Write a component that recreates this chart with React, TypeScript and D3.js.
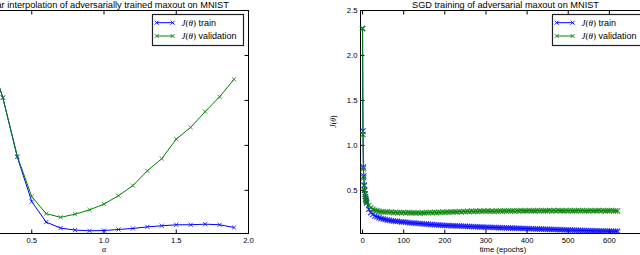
import React from "react";
import * as d3 from "d3";

// ---------- data: left panel (linear interpolation) ----------
const ALPHA = [0, 0.1, 0.2, 0.3, 0.4, 0.5, 0.6, 0.7, 0.8, 0.9, 1.0, 1.1, 1.2, 1.3, 1.4, 1.5, 1.6, 1.7, 1.8, 1.9];
const INTERP_TRAIN = [2.3, 2.22, 2.02, 1.53, 0.87, 0.375, 0.147, 0.08, 0.058, 0.05, 0.053, 0.065, 0.076, 0.094, 0.106, 0.117, 0.117, 0.124, 0.117, 0.087];
const INTERP_VALID = [2.3, 2.22, 2.02, 1.53, 0.88, 0.43, 0.24, 0.2, 0.235, 0.283, 0.347, 0.44, 0.553, 0.717, 0.853, 1.07, 1.2, 1.375, 1.54, 1.735];

// ---------- data: right panel (SGD training) ----------
const EPOCHS = [
  0, 1, 2, 3, 4, 5, 6, 7, 8, 9, 10,
  15, 20, 25, 30, 35, 40, 45, 50, 55, 60, 65, 70, 75, 80, 85, 90, 95, 100,
  105, 110, 115, 120, 125, 130, 135, 140, 145, 150, 155, 160, 165, 170, 175, 180, 185, 190, 195, 200,
  205, 210, 215, 220, 225, 230, 235, 240, 245, 250, 255, 260, 265, 270, 275, 280, 285, 290, 295, 300,
  305, 310, 315, 320, 325, 330, 335, 340, 345, 350, 355, 360, 365, 370, 375, 380, 385, 390, 395, 400,
  405, 410, 415, 420, 425, 430, 435, 440, 445, 450, 455, 460, 465, 470, 475, 480, 485, 490, 495, 500,
  505, 510, 515, 520, 525, 530, 535, 540, 545, 550, 555, 560, 565, 570, 575, 580, 585, 590, 595, 600,
  605, 610, 615, 620,
];
const SGD_TRAIN = [
  2.3, 1.16, 0.76, 0.66, 0.56, 0.5, 0.46, 0.43, 0.4, 0.38, 0.36,
  0.29, 0.252, 0.232, 0.214, 0.205, 0.196, 0.188, 0.181, 0.176, 0.171, 0.167, 0.163, 0.16, 0.157, 0.155, 0.152, 0.149, 0.147,
  0.145, 0.142, 0.14, 0.138, 0.136, 0.134, 0.132, 0.13, 0.128, 0.126, 0.125, 0.123, 0.121, 0.12, 0.118, 0.116, 0.115, 0.113, 0.112, 0.11,
  0.109, 0.108, 0.107, 0.106, 0.105, 0.104, 0.103, 0.102, 0.101, 0.1, 0.099, 0.098, 0.097, 0.096, 0.095, 0.094, 0.093, 0.092, 0.091, 0.09,
  0.089, 0.088, 0.088, 0.087, 0.086, 0.085, 0.085, 0.084, 0.083, 0.082, 0.082, 0.081, 0.08, 0.079, 0.078, 0.078, 0.077, 0.076, 0.075, 0.075,
  0.074, 0.073, 0.072, 0.071, 0.071, 0.07, 0.069, 0.068, 0.068, 0.067, 0.066, 0.065, 0.065, 0.064, 0.063, 0.062, 0.062, 0.061, 0.06, 0.059,
  0.059, 0.058, 0.057, 0.056, 0.056, 0.055, 0.054, 0.054, 0.053, 0.052, 0.052, 0.051, 0.05, 0.05, 0.049, 0.048, 0.048, 0.047, 0.047, 0.046,
  0.046, 0.045, 0.045, 0.044,
];
const SGD_VALID = [
  2.3, 1.12, 0.74, 0.64, 0.55, 0.5, 0.46, 0.43, 0.41, 0.39, 0.37,
  0.33, 0.305, 0.29, 0.28, 0.272, 0.268, 0.263, 0.26, 0.258, 0.262, 0.255, 0.258, 0.252, 0.256, 0.25, 0.254, 0.251, 0.255,
  0.249, 0.253, 0.25, 0.247, 0.252, 0.248, 0.251, 0.246, 0.252, 0.249, 0.253, 0.25, 0.255, 0.251, 0.256, 0.252, 0.257, 0.254, 0.259, 0.255,
  0.26, 0.257, 0.262, 0.258, 0.263, 0.259, 0.264, 0.26, 0.266, 0.262, 0.267, 0.263, 0.269, 0.264, 0.268, 0.265, 0.272, 0.266, 0.27, 0.267,
  0.272, 0.266, 0.27, 0.265, 0.271, 0.267, 0.273, 0.268, 0.272, 0.267, 0.274, 0.269, 0.273, 0.268, 0.272, 0.27, 0.275, 0.269, 0.273, 0.27,
  0.276, 0.271, 0.274, 0.269, 0.275, 0.271, 0.276, 0.27, 0.274, 0.272, 0.277, 0.271, 0.275, 0.27, 0.276, 0.272, 0.274, 0.269, 0.275, 0.271,
  0.276, 0.27, 0.274, 0.272, 0.277, 0.271, 0.275, 0.27, 0.274, 0.271, 0.276, 0.27, 0.274, 0.272, 0.277, 0.271, 0.275, 0.27, 0.274, 0.272,
  0.276, 0.27, 0.273, 0.271,
];

// ---------- ticks & labels ----------
const LEFT_X_TICKS = [0, 0.5, 1.0, 1.5, 2.0];
const RIGHT_X_TICKS = [0, 100, 200, 300, 400, 500, 600, 700];
const Y_TICKS = [0.5, 1.0, 1.5, 2.0, 2.5];
const LEFT_TITLE = "Linear interpolation of adversarially trained maxout on MNIST";
const RIGHT_TITLE = "SGD training of adversarial maxout on MNIST";
const SERIES_NAMES = ["train", "validation"];

const BLUE = "#0000ff";
const GREEN = "#008000";
const SANS = "'Liberation Sans', Arial, Helvetica, sans-serif";
const SERIF = "'Liberation Serif', 'DejaVu Serif', serif";

const TOP = 10.5;
const BOTTOM = 233.5;
const yScale = d3.scaleLinear().domain([0.02, 2.5]).range([BOTTOM, TOP]);
const xLeft = d3.scaleLinear().domain([0, 2]).range([-40.5, 248.5]);
const xRight = d3.scaleLinear().domain([-5, 700]).range([360.5, 650.5]);

function markers(pts: [number, number][], s: number) {
  return pts
    .map(([x, y]) => `M${x - s},${y - s}L${x + s},${y + s}M${x - s},${y + s}L${x + s},${y - s}`)
    .join("");
}

function Series({ xs, ys, xScale, color, ms, mw }: any) {
  const pts: [number, number][] = xs.map((x: number, i: number) => [xScale(x), yScale(ys[i])]);
  const line = d3.line()(pts) || "";
  return (
    <g>
      <path d={line} fill="none" stroke={color} strokeWidth={1} />
      <path d={markers(pts, ms)} fill="none" stroke={color} strokeWidth={mw} opacity={0.85} />
    </g>
  );
}

function Frame({ xScale, xTicks, fmt, yLabelsLeft, title, xlabel }: any) {
  const [x0, x1] = xScale.range();
  const TL = 4;
  return (
    <g>
      <rect x={x0} y={TOP} width={x1 - x0} height={BOTTOM - TOP} fill="none" stroke="#000" strokeWidth={1} />
      {xTicks.map((t: number) => {
        const x = xScale(t);
        return (
          <g key={"x" + t}>
            <line x1={x} x2={x} y1={BOTTOM} y2={BOTTOM - TL} stroke="#000" />
            <line x1={x} x2={x} y1={TOP} y2={TOP + TL} stroke="#000" />
            {x > 8 && x < 632 && (
              <text x={x} y={242.5} fontSize={7.7} fontFamily={SANS} textAnchor="middle">
                {fmt(t)}
              </text>
            )}
          </g>
        );
      })}
      {Y_TICKS.map((t) => {
        const y = yScale(t);
        return (
          <g key={"y" + t}>
            <line x1={x0} x2={x0 + TL} y1={y} y2={y} stroke="#000" />
            <line x1={x1} x2={x1 - TL} y1={y} y2={y} stroke="#000" />
            {yLabelsLeft && x0 > 20 && (
              <text x={x0 - 3} y={y + 2.8} fontSize={7.7} fontFamily={SANS} textAnchor="end">
                {t.toFixed(1)}
              </text>
            )}
          </g>
        );
      })}
      <text x={(x0 + x1) / 2} y={7.5} fontSize={9.2} fontFamily={SANS} textAnchor="middle">
        {title}
      </text>
      {xlabel}
    </g>
  );
}

function Legend({ x, y, w }: any) {
  const rows = [
    { name: SERIES_NAMES[0], color: BLUE },
    { name: SERIES_NAMES[1], color: GREEN },
  ];
  return (
    <g>
      <rect x={x} y={y} width={w} height={31} fill="#fff" stroke="#222" strokeWidth={1.2} />
      {rows.map((r, i) => {
        const ry = y + 8.2 + i * 13.3;
        const lx0 = x + 4.2;
        const lx1 = x + 20.2;
        return (
          <g key={r.name}>
            <line x1={lx0} x2={lx1} y1={ry} y2={ry} stroke={r.color} strokeWidth={1} />
            <path d={markers([[lx0, ry], [lx1, ry]], 2)} stroke={r.color} strokeWidth={0.9} fill="none" />
            <text x={x + 29} y={ry + 3.3} fontSize={9} fontFamily={SANS}>
              <tspan fontFamily={SERIF} fontStyle="italic">J</tspan>
              <tspan fontFamily={SERIF}>(</tspan>
              <tspan fontFamily={SERIF} fontStyle="italic">θ</tspan>
              <tspan fontFamily={SERIF}>)</tspan>
              <tspan> {r.name}</tspan>
            </text>
          </g>
        );
      })}
    </g>
  );
}

export default function App() {
  return (
    <svg
      width={640}
      height={255}
      style={{ position: "absolute", left: 0, top: 0, background: "#fff", overflow: "hidden" }}
    >
      <rect x={0} y={0} width={640} height={255} fill="#fff" />
      {/* left panel */}
      <Frame
        xScale={xLeft}
        xTicks={LEFT_X_TICKS}
        fmt={(t: number) => t.toFixed(1)}
        yLabelsLeft={true}
        title={LEFT_TITLE}
        xlabel={
          <text x={xLeft(1)} y={252} fontSize={8} fontFamily={SERIF} fontStyle="italic" textAnchor="middle">
            α
          </text>
        }
      />
      <Series xs={ALPHA} ys={INTERP_TRAIN} xScale={xLeft} color={BLUE} ms={2.1} mw={0.9} />
      <Series xs={ALPHA} ys={INTERP_VALID} xScale={xLeft} color={GREEN} ms={2.1} mw={0.9} />
      <Legend x={152.5} y={14.5} w={91} />

      {/* right panel */}
      <Frame
        xScale={xRight}
        xTicks={RIGHT_X_TICKS}
        fmt={(t: number) => String(t)}
        yLabelsLeft={true}
        title={RIGHT_TITLE}
        xlabel={
          <text x={503} y={252} fontSize={7.7} fontFamily={SANS} textAnchor="middle">
            time (epochs)
          </text>
        }
      />
      <text
        transform={`translate(335.5,121.5) rotate(-90)`}
        fontSize={7.7}
        fontFamily={SERIF}
        textAnchor="middle"
      >
        <tspan fontStyle="italic">J</tspan>(<tspan fontStyle="italic">θ</tspan>)
      </text>
      <Series xs={EPOCHS} ys={SGD_TRAIN} xScale={xRight} color={BLUE} ms={2.6} mw={1.1} />
      <Series xs={EPOCHS} ys={SGD_VALID} xScale={xRight} color={GREEN} ms={2.6} mw={1.1} />
      <Legend x={552.5} y={14.5} w={100} />
    </svg>
  );
}
